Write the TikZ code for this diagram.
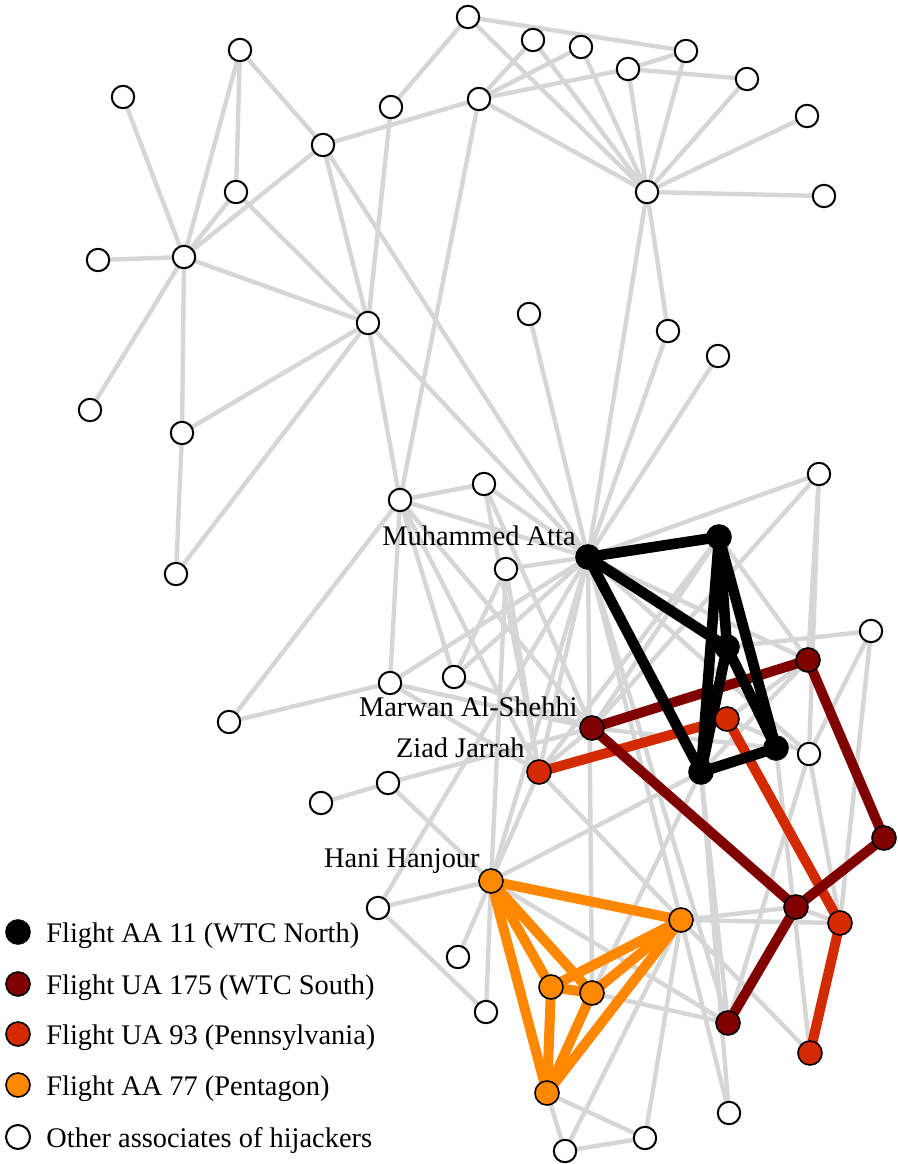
\documentclass[tikz,border=0pt]{standalone}
\usepackage{fontspec}
\setmainfont{Liberation Serif}
\pgfdeclarelayer{bg}
\pgfsetlayers{bg,main}
\definecolor{edgegray}{RGB}{214,214,214}
\definecolor{cAAel}{RGB}{0,0,0}
\definecolor{cUAos}{RGB}{128,0,0}
\definecolor{cUAnt}{RGB}{212,42,0}
\definecolor{cAAss}{RGB}{255,136,0}
\tikzset{
  oth/.style={circle,draw=black,line width=1pt,fill=white,inner sep=0pt,minimum size=11.2pt},
  hj/.style={circle,draw=black,line width=0.8pt,inner sep=0pt,minimum size=12pt,fill=#1},
  gedge/.style={draw=edgegray,line width=2.2pt},
  cedge/.style={draw=#1,line width=5pt},
  lab/.style={font=\fontsize{14.2}{17}\selectfont,inner sep=0pt},
}
\begin{document}
\begin{tikzpicture}[x=0.5pt,y=-0.5pt]
\useasboundingbox (0,0) rectangle (898,1164);
% other associates
\foreach \n/\x/\y in {n1/468/17,n2/533/40,n3/581/47,n4/686/51,n5/628/69,n6/747/79,n7/479/99,n8/391/107,
  n9/240/50,n10/123/97,n11/807/116,n12/323/145,n13/236/192,n14/647/192,n15/824/196,n16/98/260,n17/184/257,
  n18/368/323,n19/529/314,n20/668/331,n21/718/356,n22/90/410,n23/182/433,n24/176/574,n25/400/500,n26/484/484,
  n27/819/474,n30/506/569,n32/871/631,n34/390/683,n35/454/677,n36/229/722,n40/809/754,n43/388/783,n44/321/803,
  n47/378/908,n51/458/957,n54/486/1012,n58/729/1113,n59/565/1151,n60/645/1138}
  \node[oth] (\n) at (\x,\y) {};
% hijackers
\foreach \n/\x/\y in {atta/588/557,n29/719/537,n31/727/647,n39/776/748,n41/701/772}
  \node[hj=cAAel] (\n) at (\x,\y) {};
\foreach \n/\x/\y in {marwan/592/728,n33/808/660,n45/884/838,n49/796/907,n55/728/1023}
  \node[hj=cUAos] (\n) at (\x,\y) {};
\foreach \n/\x/\y in {ziad/539/772,n38/727/719,n50/840/923,n56/810/1053}
  \node[hj=cUAnt] (\n) at (\x,\y) {};
\foreach \n/\x/\y in {hani/491/881,n48/681/920,n52/551/987,n53/592/993,n57/547/1093}
  \node[hj=cAAss] (\n) at (\x,\y) {};
\begin{pgfonlayer}{bg}
\path[fill=white] (0,0) rectangle (898,1164);
\foreach \a/\b in {n1/n4,n1/n8,n1/n14,n2/n7,n2/n14,n3/n7,n3/n14,n4/n5,n4/n14,n5/n7,n5/n6,n5/n14,n6/n14,
  n7/n12,n7/n14,n7/n25,n8/n18,n9/n12,n9/n13,n9/n17,n10/n17,n11/n14,n12/n17,n12/n18,n12/atta,n13/n17,n13/n18,
  n14/n15,n14/n20,n14/atta,n16/n17,n17/n18,n17/n22,n17/n23,n18/n23,n18/n24,n18/n25,n18/atta,n19/atta,n20/atta,
  n21/atta,n23/n24,n27/atta,
  n25/n26,n25/atta,n25/n34,n25/n35,n25/n36,n25/marwan,n25/ziad,n26/atta,n26/marwan,n26/ziad,
  n30/atta,n30/n35,n30/ziad,n30/hani,n34/atta,n34/marwan,n34/ziad,n34/n36,n35/atta,n35/marwan,
  n43/n44,n43/marwan,n43/hani,n47/atta,n47/hani,n47/n54,
  atta/ziad,atta/hani,atta/n53,atta/n48,atta/n55,atta/n33,atta/n40,
  n27/marwan,n27/n33,n27/n40,n29/n33,n29/marwan,n29/ziad,n31/n32,n32/n40,n32/n50,n38/n33,n38/n40,n39/n56,
  n40/n55,n40/n50,n41/n53,n41/n55,n41/n58,n41/hani,n41/n33,
  hani/n51,hani/n54,hani/n55,hani/ziad,n48/n49,n48/n50,n48/n56,n48/n58,n48/n60,n48/n59,n48/ziad,
  n49/n50,n53/n55,n57/n59,n57/n60,n59/n60,marwan/ziad,marwan/n39}
  \draw[gedge] (\a.center) -- (\b.center);
\foreach \a/\b in {hani/n48,hani/n52,hani/n53,hani/n57,n48/n52,n48/n53,n48/n57,n52/n53,n52/n57,n53/n57}
  \draw[cedge=cAAss] (\a.center) -- (\b.center);
\foreach \a/\b in {ziad/n38,n38/n50,n50/n56}
  \draw[cedge=cUAnt] (\a.center) -- (\b.center);
\foreach \a/\b in {marwan/n33,marwan/n49,n33/n45,n45/n49,n49/n55}
  \draw[cedge=cUAos] (\a.center) -- (\b.center);
\foreach \a/\b in {atta/n29,atta/n31,atta/n41,n29/n31,n29/n41,n29/n39,n31/n41,n31/n39,n41/n39}
  \draw[cedge=cAAel,line width=5.3pt] (\a.center) -- (\b.center);
\end{pgfonlayer}
% labels
\node[lab,anchor=base east] (lAtta) at (576,545) {Muhammed Atta};
\node[lab,anchor=base east] (lMarwan) at (578,716) {Marwan Al-Shehhi};
\node[lab,anchor=base east] (lZiad) at (525,757) {Ziad Jarrah};
\node[lab,anchor=base east] (lHani) at (480,867) {Hani Hanjour};
% legend
\node[hj=cAAel,minimum size=12pt] (g1) at (18,932) {};
\node[hj=cUAos,minimum size=12pt] (g2) at (18,984) {};
\node[hj=cUAnt,minimum size=12pt] (g3) at (18,1034) {};
\node[hj=cAAss,minimum size=12pt] (g4) at (18,1085) {};
\node[oth,minimum size=12pt] (g5) at (18,1137) {};
\node[lab,anchor=base west] (t1) at (46,942) {Flight AA 11 (WTC North)};
\node[lab,anchor=base west] (t2) at (46,994) {Flight UA 175 (WTC South)};
\node[lab,anchor=base west] (t3) at (46,1044) {Flight UA 93 (Pennsylvania)};
\node[lab,anchor=base west] (t4) at (46,1095) {Flight AA 77 (Pentagon)};
\node[lab,anchor=base west] (t5) at (46,1147) {Other associates of hijackers};
\end{tikzpicture}
\end{document}
